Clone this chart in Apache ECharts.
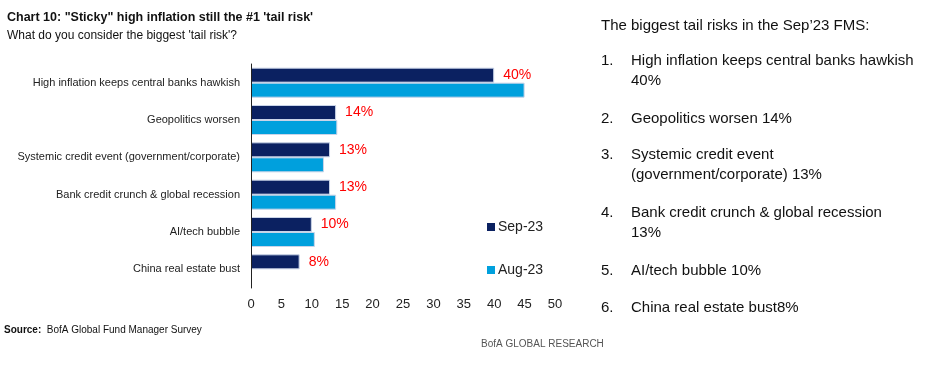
<!DOCTYPE html>
<html>
<head>
<meta charset="utf-8">
<script src="https://cdn.jsdelivr.net/npm/echarts@6/dist/echarts.min.js"></script>
<style>
  html, body { margin: 0; padding: 0; background: #fff; }
  #chart { width: 933px; height: 376px; }
</style>
</head>
<body>
<div id="chart"></div>
<script>
// biggest tail risks, FMS Sep-23 vs Aug-23
var categories = [
  'High inflation keeps central banks hawkish',
  'Geopolitics worsen',
  'Systemic credit event (government/corporate)',
  'Bank credit crunch & global recession',
  'AI/tech bubble',
  'China real estate bust'
];
var sep23 = [40, 14, 13, 13, 10, 8];
var aug23 = [45, 14.2, 12, 14, 10.5, null];
var xTicks = [0, 5, 10, 15, 20, 25, 30, 35, 40, 45, 50];

var notes = [
  { num: '1.', lines: ['High inflation keeps central banks hawkish', '40%'], y: 59 },
  { num: '2.', lines: ['Geopolitics worsen 14%'], y: 117 },
  { num: '3.', lines: ['Systemic credit event', '(government/corporate) 13%'], y: 153 },
  { num: '4.', lines: ['Bank credit crunch & global recession', '13%'], y: 211 },
  { num: '5.', lines: ['AI/tech bubble 10%'], y: 269 },
  { num: '6.', lines: ['China real estate bust8%'], y: 306 }
];

var FONT = '"Liberation Sans", Arial, sans-serif';
var NAVY = '#0b2161';
var CYAN = '#00a0dd';

var graphics = [
  {
    type: 'text', left: 601, top: 18,
    style: { text: 'The biggest tail risks in the Sep\u201923 FMS:', font: '15px ' + FONT, fill: '#111' }
  },
  {
    type: 'text', left: 4, top: 325,
    style: {
      text: '{b|Source:}  BofA Global Fund Manager Survey',
      font: '10px ' + FONT, fill: '#111',
      rich: { b: { fontWeight: 'bold', fontSize: 10, fontFamily: FONT } }
    }
  },
  {
    type: 'text', left: 481, top: 339,
    style: { text: 'BofA GLOBAL RESEARCH', font: '10px ' + FONT, fill: '#555' }
  }
];
notes.forEach(function (n) {
  graphics.push({
    type: 'text', left: 601, top: n.y - 8,
    style: { text: n.num, font: '15px ' + FONT, fill: '#111', lineHeight: 20 }
  });
  graphics.push({
    type: 'text', left: 631, top: n.y - 8,
    style: { text: n.lines.join('\n'), font: '15px ' + FONT, fill: '#111', lineHeight: 20 }
  });
});

var myChart = echarts.init(document.getElementById('chart'));
myChart.setOption({
  animation: false,
  title: [
    {
      text: 'Chart 10: "Sticky" high inflation still the #1 \'tail risk\'',
      left: 2, top: 6,
      textStyle: { fontFamily: FONT, fontSize: 12.5, fontWeight: 'bold', color: '#111' }
    },
    {
      text: 'What do you consider the biggest \'tail risk\'?',
      left: 2, top: 25,
      textStyle: { fontFamily: FONT, fontSize: 12, fontWeight: 'normal', color: '#111' }
    }
  ],
  legend: {
    orient: 'vertical',
    left: 482, top: 215,
    itemWidth: 8, itemHeight: 8,
    itemGap: 29,
    icon: 'rect',
    itemStyle: { borderWidth: 0 },
    textStyle: { fontFamily: FONT, fontSize: 14, color: '#222', padding: [0, 0, 0, -2] },
    data: ['Sep-23', 'Aug-23']
  },
  grid: { left: 251, right: 378, top: 64, bottom: 88 },
  xAxis: {
    type: 'value',
    min: 0, max: 50, interval: 5,
    axisLine: { show: false },
    axisTick: { show: false },
    splitLine: { show: false },
    axisLabel: {
      margin: 10,
      fontFamily: FONT, fontSize: 13, color: '#222',
      formatter: function (v) { return xTicks.indexOf(v) >= 0 ? String(v) : ''; }
    }
  },
  yAxis: {
    type: 'category',
    inverse: true,
    z: 5,
    data: categories,
    axisLine: { show: true, lineStyle: { color: '#222', width: 1 } },
    axisTick: { show: false },
    axisLabel: { margin: 11, fontFamily: FONT, fontSize: 11, color: '#222' }
  },
  series: [
    {
      name: 'Sep-23',
      type: 'bar',
      barWidth: 15,
      barGap: '0%',
      data: sep23,
      itemStyle: { color: NAVY, borderColor: '#c9d4e8', borderWidth: 1 },
      label: {
        show: true, position: 'right', distance: 9,
        formatter: '{c}%',
        fontFamily: FONT, fontSize: 14, color: '#ff0000'
      }
    },
    {
      name: 'Aug-23',
      type: 'bar',
      barWidth: 15,
      barGap: '0%',
      data: aug23,
      itemStyle: { color: CYAN, borderColor: '#c9d4e8', borderWidth: 1 }
    }
  ],
  graphic: graphics
});
</script>
</body>
</html>
